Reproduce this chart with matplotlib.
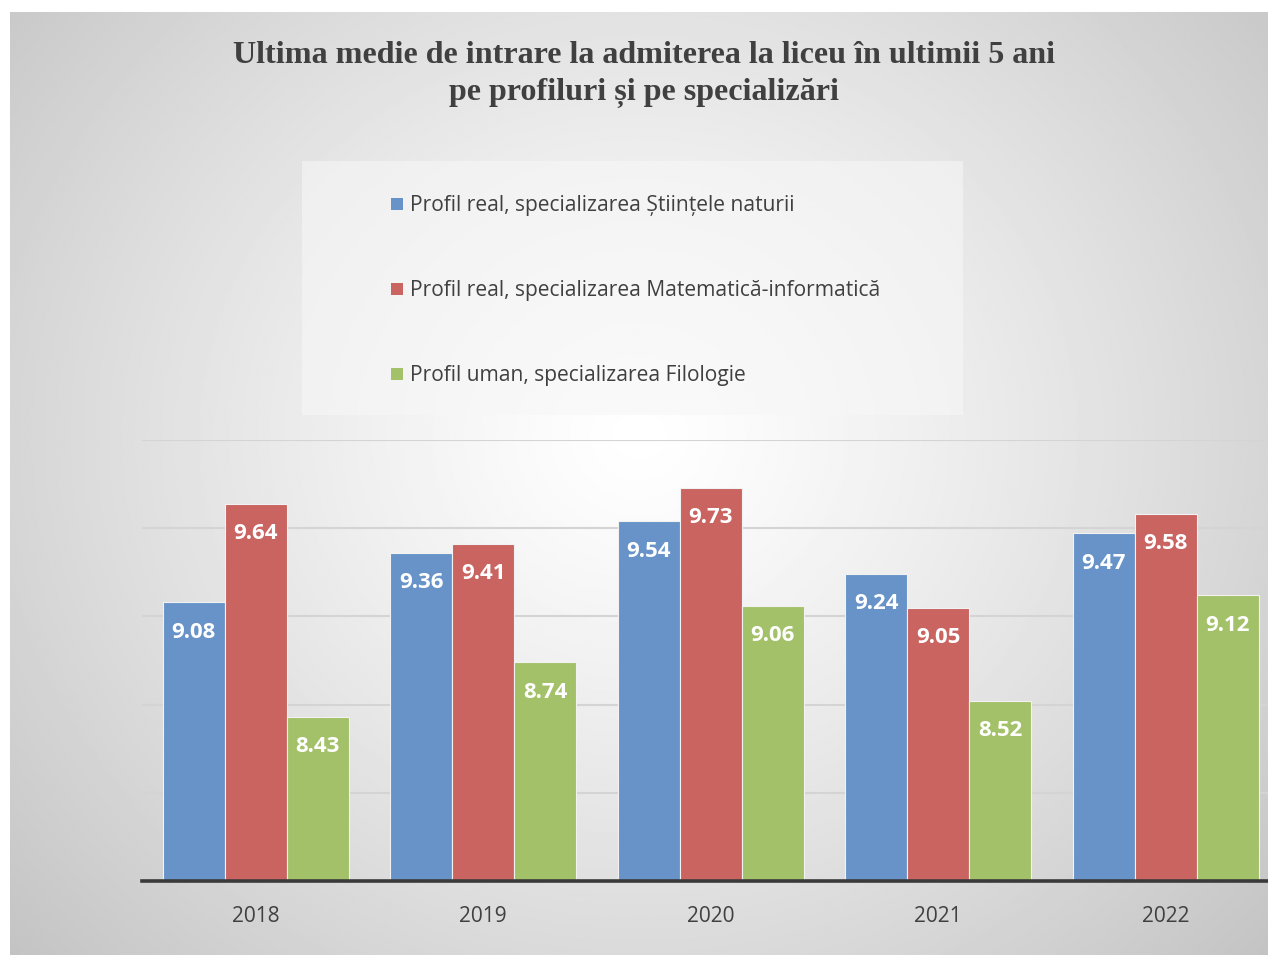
import numpy as np
import matplotlib

matplotlib.use("Agg")
import matplotlib.pyplot as plt
from matplotlib.patches import Rectangle, Patch

# data
years = ["2018", "2019", "2020", "2021", "2022"]
series_names = [
    "Profil real, specializarea Științele naturii",
    "Profil real, specializarea Matematică-informatică",
    "Profil uman, specializarea Filologie",
]
stiinte = [9.08, 9.36, 9.54, 9.24, 9.47]
mate_info = [9.64, 9.41, 9.73, 9.05, 9.58]
filologie = [8.43, 8.74, 9.06, 8.52, 9.12]

colors = ["#6793c8", "#c96461", "#a3c168"]
title = ("Ultima medie de intrare la admiterea la liceu în ultimii 5 ani\n"
         "pe profiluri și pe specializări")

W, H = 1268, 955
fig = plt.figure(figsize=(W / 100, H / 100), dpi=100)
fig.patch.set_facecolor("white")

# radial grey gradient background (chart area)
bg = fig.add_axes([10 / W, 0, 1 - 10 / W, 1 - 12 / H])
yy, xx = np.mgrid[0:1:400j, 0:1:500j]
r = np.sqrt(((xx - 0.5) / 0.62) ** 2 + ((yy - 0.55) / 0.75) ** 2)
shade = np.clip(1.0 - 0.21 * r ** 1.2, 0, 1)
bg.imshow(shade, cmap="gray", vmin=0, vmax=1, aspect="auto",
          extent=(0, 1, 0, 1), origin="lower", interpolation="bilinear")
bg.set_axis_off()

# light legend box
fig.patches.append(Rectangle((302 / W, 1 - 415 / H), (963 - 302) / W, (415 - 161) / H,
                             transform=fig.transFigure, facecolor="#f7f7f7",
                             edgecolor="none", alpha=0.6, zorder=1))

ax = fig.add_axes([142 / W, 1 - 881 / H, 1137.5 / W, (881 - 440) / H])
ax.patch.set_alpha(0)
x = np.arange(len(years))
bw = 0.2725
for i, vals in enumerate([stiinte, mate_info, filologie]):
    pos = x + (i - 1) * bw
    bars = ax.bar(pos, vals, width=bw, color=colors[i], edgecolor="#f2f2f2",
                  linewidth=0.8, zorder=3)
    for b, v in zip(bars, vals):
        ax.annotate(f"{v:.2f}", (b.get_x() + b.get_width() / 2, v),
                    xytext=(0, -21.5), textcoords="offset points",
                    ha="center", va="center", color="white",
                    fontsize=16, fontweight="bold", family="Open Sans", zorder=4)

ax.set_xlim(-0.5, len(years) - 0.5)
ax.set_ylim(7.5, 10.0)
ax.set_yticks([8.0, 8.5, 9.0, 9.5, 10.0])
ax.yaxis.grid(True, color="#d4d4d4", linewidth=1.5, zorder=0)
ax.tick_params(axis="y", left=False, labelleft=False)
ax.tick_params(axis="x", length=0, pad=18, labelsize=15, labelcolor="#404040")
ax.set_xticks(x)
ax.set_xticklabels(years, family="Open Sans")
for s in ["top", "right", "left"]:
    ax.spines[s].set_visible(False)
ax.spines["bottom"].set_color("#3a3a3a")
ax.spines["bottom"].set_linewidth(2.6)
ax.spines["bottom"].set_zorder(5)

fig.text(0.508, 1 - 74.5 / H, title, ha="center", va="center", fontsize=23.1,
         fontweight="bold", family="Liberation Serif", color="#404040",
         linespacing=1.4)

handles = [Patch(facecolor=c, edgecolor="none") for c in colors]
leg = fig.legend(handles, series_names, loc="upper left",
                 bbox_to_anchor=(381 / W, 1 - 185 / H), frameon=False,
                 prop={"family": "Open Sans", "size": 15.1},
                 labelspacing=3.05, handlelength=0.55, handleheight=0.55,
                 handletextpad=0.35, borderpad=0)
for t in leg.get_texts():
    t.set_color("#404040")

fig.savefig("out.png", dpi=100)
